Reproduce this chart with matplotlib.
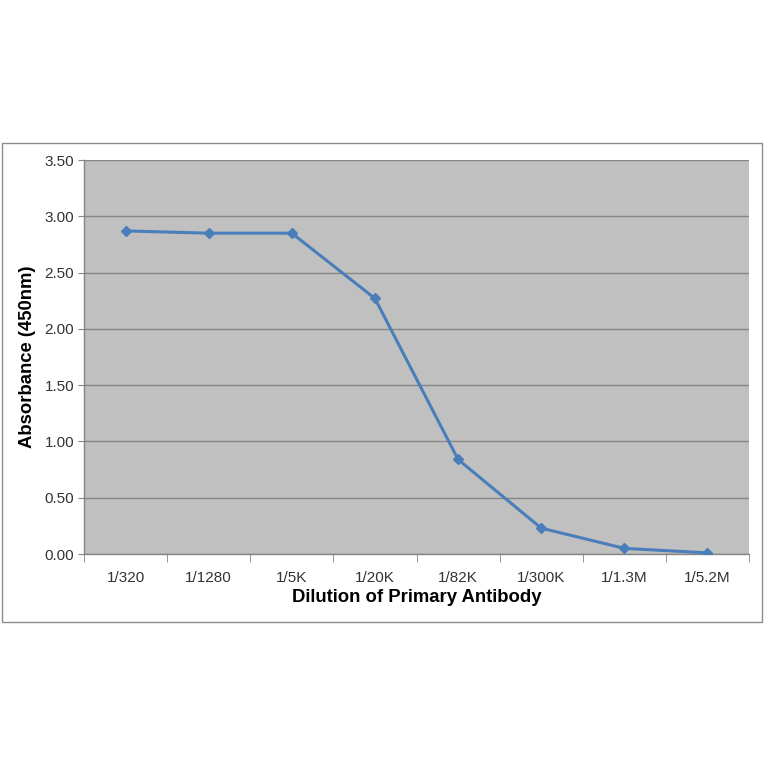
import matplotlib
matplotlib.use("Agg")
import matplotlib.pyplot as plt
from matplotlib.patches import Rectangle

dilutions = ["1/320", "1/1280", "1/5K", "1/20K", "1/82K", "1/300K", "1/1.3M", "1/5.2M"]
absorbance = [2.87, 2.85, 2.85, 2.27, 0.84, 0.23, 0.05, 0.01]
y_ticks = [0.0, 0.5, 1.0, 1.5, 2.0, 2.5, 3.0, 3.5]

plt.rcParams["font.family"] = ["Liberation Sans", "DejaVu Sans"]

fig = plt.figure(figsize=(7.64, 7.64), dpi=100)
fig.patch.set_facecolor("white")

# outer chart frame
fig.add_artist(Rectangle((2 / 764, 1 - 622 / 764), 760 / 764, 479 / 764,
                         transform=fig.transFigure, fill=False,
                         edgecolor="#8c8c8c", linewidth=1.0))

ax = fig.add_axes([84 / 764, 1 - 554 / 764, 665 / 764, 394 / 764])
ax.set_facecolor("#c0c0c0")

x = list(range(len(dilutions)))
ax.plot(x, absorbance, color="#4a7ebb", linewidth=2.2, marker="D",
        markersize=5.5, markerfacecolor="#4a7ebb", markeredgecolor="#4a7ebb", zorder=3)

ax.set_xlim(-0.5, len(dilutions) - 0.5)
ax.set_ylim(0, 3.5)
ax.set_yticks(y_ticks)
ax.set_yticklabels([f"{v:.2f}" for v in y_ticks])
ax.set_xticks(x)
ax.set_xticklabels(dilutions)
ax.set_xticks([i - 0.5 for i in range(len(dilutions) + 1)], minor=True)

ax.grid(axis="y", color="#868686", linewidth=1.0)
ax.set_axisbelow(True)

for side in ["top", "right"]:
    ax.spines[side].set_visible(False)
for side in ["left", "bottom"]:
    ax.spines[side].set_color("#868686")
    ax.spines[side].set_linewidth(1.0)

ax.tick_params(axis="y", length=4, color="#868686", labelsize=11, labelcolor="#333333", pad=3)
ax.tick_params(axis="x", which="major", length=0, labelsize=11, labelcolor="#333333", pad=12)
ax.tick_params(axis="x", which="minor", length=6, color="#868686")

ax.set_ylabel("Absorbance (450nm)", fontsize=13.3, fontweight="bold", labelpad=6)
ax.set_xlabel("Dilution of Primary Antibody", fontsize=13.3, fontweight="bold", labelpad=3)

fig.savefig("out.png", dpi=100)
